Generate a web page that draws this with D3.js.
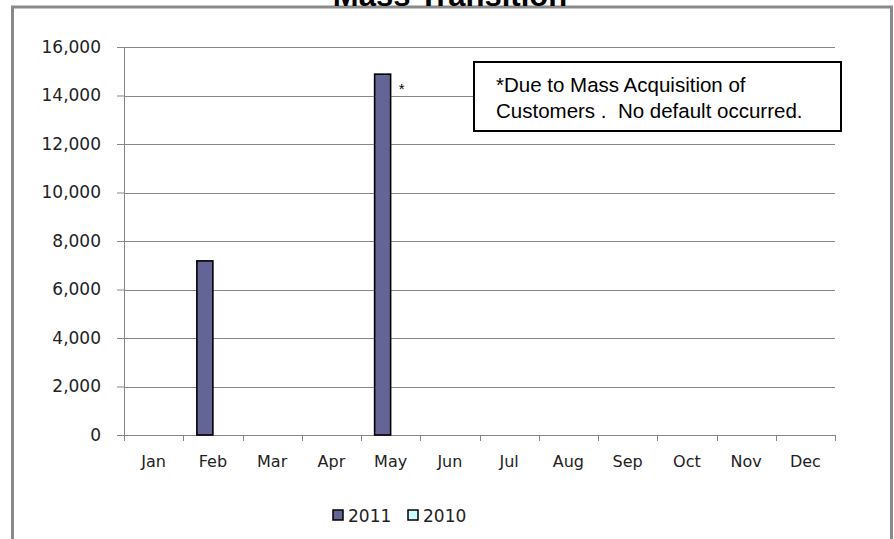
<!DOCTYPE html>
<html>
<head>
<meta charset="utf-8">
<script src="https://cdn.jsdelivr.net/npm/d3@7"></script>
<style>
  html, body { margin: 0; padding: 0; background: #fff; }
  svg { display: block; }
</style>
</head>
<body>
<svg id="chart" width="894" height="539"></svg>
<script>
const months = ["Jan","Feb","Mar","Apr","May","Jun","Jul","Aug","Sep","Oct","Nov","Dec"];
const seriesNames = ["2011","2010"];
const values2011 = [0, 7180, 0, 0, 14880, 0, 0, 0, 0, 0, 0, 0];
const values2010 = [0, 0, 0, 0, 0, 0, 0, 0, 0, 0, 0, 0];
const yTicks = [0, 2000, 4000, 6000, 8000, 10000, 12000, 14000, 16000];
const seriesColors = ["#646496", "#CCFFFF"];
const titleText = "Mass Transition";
const noteLines = ["*Due to Mass Acquisition of", "Customers .  No default occurred."];
const markedMonth = "May";

const svg = d3.select("#chart");
const plot = { left: 124, right: 835, top: 47, bottom: 435 };
const axisColor = "#868686";
const labelFont = "'DejaVu Sans', sans-serif";

// outer frame
svg.append("rect")
  .attr("x", 12.5).attr("y", 7).attr("width", 879).attr("height", 560)
  .attr("fill", "none").attr("stroke", "#8a8a8a").attr("stroke-width", 3);

// title (cut off at top, as in the reference)
svg.append("text")
  .attr("x", 450).attr("y", 6)
  .attr("text-anchor", "middle")
  .attr("font-family", "'Liberation Sans', Arial, sans-serif")
  .attr("font-weight", "bold")
  .attr("font-size", 31)
  .attr("fill", "#000")
  .text(titleText);

const x = d3.scaleBand().domain(months).range([plot.left, plot.right]).paddingInner(0).paddingOuter(0);
const xBars = d3.scaleBand().domain(months).range([plot.left, plot.right]).paddingInner(0.46).paddingOuter(0.23);
const xSeries = d3.scaleBand().domain(seriesNames).range([0, xBars.bandwidth()]);
const y = d3.scaleLinear().domain([0, 16000]).range([plot.bottom, plot.top]);

// gridlines + y axis
const yAxis = d3.axisLeft(y).tickValues(yTicks).tickFormat(d3.format(",")).tickSize(7).tickPadding(16);
const gy = svg.append("g").attr("transform", `translate(${plot.left},0)`).call(yAxis);
gy.select(".domain").attr("stroke", axisColor);
gy.selectAll(".tick line").attr("stroke", axisColor);
gy.selectAll(".tick text").attr("font-family", labelFont).attr("font-size", 17).attr("fill", "#222");
svg.append("g").selectAll("line").data(yTicks.filter(d => d > 0)).join("line")
  .attr("x1", plot.left).attr("x2", plot.right)
  .attr("y1", d => Math.round(y(d)) + 0.5).attr("y2", d => Math.round(y(d)) + 0.5)
  .attr("stroke", axisColor).attr("stroke-width", 1);

// x axis
const xAxisLine = svg.append("g").attr("transform", `translate(0,${plot.bottom})`);
xAxisLine.append("line").attr("x1", plot.left).attr("x2", plot.right).attr("y1", 0.5).attr("y2", 0.5).attr("stroke", axisColor);
const boundaries = months.map(m => x(m)).concat([plot.right]);
xAxisLine.selectAll("line.tk").data(boundaries).join("line").attr("class", "tk")
  .attr("x1", d => Math.round(d) + 0.5).attr("x2", d => Math.round(d) + 0.5)
  .attr("y1", 0).attr("y2", 6).attr("stroke", axisColor);
xAxisLine.selectAll("text").data(months).join("text")
  .attr("x", d => x(d) + x.bandwidth() / 2).attr("y", 32)
  .attr("text-anchor", "middle")
  .attr("font-family", labelFont).attr("font-size", 16)
  .attr("fill", "#222").text(d => d);

// bars
const series = [values2011, values2010];
series.forEach((vals, si) => {
  svg.append("g").selectAll("rect")
    .data(months.map((m, i) => ({ m, v: vals[i] })).filter(d => d.v > 0))
    .join("rect")
    .attr("x", d => xBars(d.m) + xSeries(seriesNames[si]))
    .attr("y", d => y(d.v))
    .attr("width", xSeries.bandwidth())
    .attr("height", d => y(0) - y(d.v))
    .attr("fill", seriesColors[si])
    .attr("stroke", "#000").attr("stroke-width", 1.6);
});

// asterisk next to May bar
svg.append("text")
  .attr("x", xBars(markedMonth) + xSeries("2011") + xSeries.bandwidth() + 8)
  .attr("y", y(values2011[months.indexOf(markedMonth)]) + 20)
  .attr("font-family", "'Liberation Sans', Arial, sans-serif")
  .attr("font-size", 15).attr("fill", "#000").text("*");

// note box
svg.append("rect").attr("x", 474).attr("y", 62).attr("width", 367).attr("height", 69)
  .attr("fill", "#fff").attr("stroke", "#000").attr("stroke-width", 2);
svg.append("g").selectAll("text").data(noteLines).join("text")
  .attr("x", 496).attr("y", (d, i) => 92 + i * 26)
  .style("white-space", "pre")
  .attr("font-family", "'Liberation Sans', Arial, sans-serif")
  .attr("font-size", 20.5).attr("fill", "#000").text(d => d);

// legend
const legend = svg.append("g");
const legendX = [333, 408];
seriesNames.forEach((name, i) => {
  legend.append("rect").attr("x", legendX[i]).attr("y", 510).attr("width", 10).attr("height", 10)
    .attr("fill", seriesColors[i]).attr("stroke", "#000").attr("stroke-width", 1.5);
  legend.append("text").attr("x", legendX[i] + 15).attr("y", 522)
    .attr("font-family", labelFont).attr("font-size", 17).attr("fill", "#222").text(name);
});
</script>
</body>
</html>
